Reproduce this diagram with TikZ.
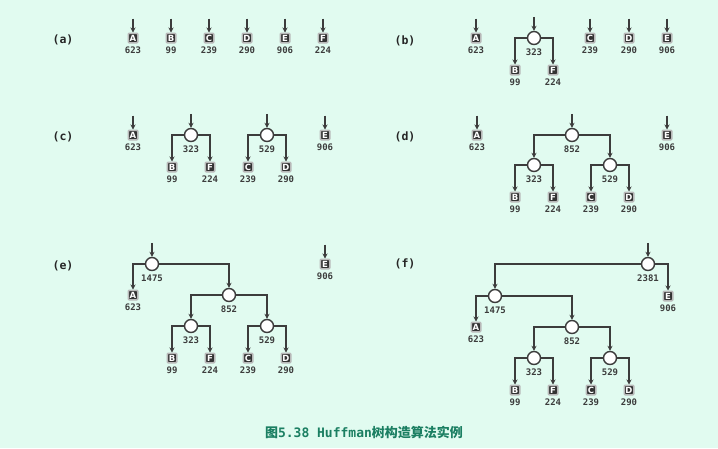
\documentclass[tikz,border=0pt]{standalone}
\usepackage{fontspec}
\setmonofont{DejaVu Sans Mono}
\setsansfont{DejaVu Sans}
\newfontfamily\cjk{Noto Sans CJK SC}
\usepackage{tikz}
\usetikzlibrary{arrows.meta,positioning}
\definecolor{bgmint}{HTML}{E1FBF0}
\definecolor{linegray}{HTML}{3C3C3C}
\definecolor{titleteal}{HTML}{1B7F62}

\begin{document}
\begin{tikzpicture}[x=1pt,y=-1pt,
  font=\ttfamily\bfseries\fontsize{9}{10}\selectfont,
  leaf/.style={draw=gray!55,line width=1.5pt,fill=black!80,text=white,rounded corners=1pt,
    minimum size=9.5pt,inner sep=0pt,font=\sffamily\bfseries\fontsize{8.5}{9}\selectfont},
  inode/.style={circle,draw=linegray,line width=1.4pt,fill=white,minimum size=13pt,inner sep=0pt},
  wt/.style={label={[label distance=0pt,text=linegray,font=\ttfamily\bfseries\fontsize{9}{10}\selectfont]below:#1}},
  edge/.style={draw=linegray,line width=1.4pt,-{Stealth[length=5pt,width=5pt]}},
  tag/.style={font=\ttfamily\bfseries\fontsize{11.5}{12}\selectfont,text=black!85}]
\fill[bgmint] (0,0) rectangle (718,448);
%(a) nur Blaetter
\node[tag] (ta) at (63,40) {(a)};
\foreach \n/\w [count=\i] in {A/623,B/99,C/239,D/290,E/906,F/224}{
  \node[leaf,wt=\w] (a\n) at (95+38*\i,38) {\n};
}
%(b) B und F zusammen
\node[tag] (tb) at (405,41) {(b)};
\node[leaf,wt=623] (bA) at (476,38) {A};
\node[inode,wt=323] (b323) at (534,38) {};
\node[leaf,wt=239] (bC) at (590,38) {C};
\node[leaf,wt=290] (bD) at (629,38) {D};
\node[leaf,wt=906] (bE) at (667,38) {E};
\node[leaf,wt=99] (bB) at (515,70) {B};
\node[leaf,wt=224] (bF) at (553,70) {F};
%(c)
\node[tag] (tc) at (63,137) {(c)};
\node[leaf,wt=623] (cA) at (133,135) {A};
\node[inode,wt=323] (c323) at (191,135) {};
\node[inode,wt=529] (c529) at (267,135) {};
\node[leaf,wt=906] (cE) at (325,135) {E};
\foreach \n/\w/\x in {B/99/172,F/224/210,C/239/248,D/290/286}{
  \node[leaf,wt=\w] (c\n) at (\x,167) {\n};
}
%(d)
\node[tag] (td) at (405,137) {(d)};
\node[leaf,wt=623] (dA) at (477,135) {A};
\node[inode,wt=852] (d852) at (572,135) {};
\node[leaf,wt=906] (dE) at (667,135) {E};
\node[inode,wt=323] (d323) at (534,165) {};
\node[inode,wt=529] (d529) at (610,165) {};
\foreach \n/\w/\x in {B/99/515,F/224/553,C/239/591,D/290/629}{
  \node[leaf,wt=\w] (d\n) at (\x,197) {\n};
}
%(e)
\node[tag] (te) at (63,266) {(e)};
\node[inode,wt=1475] (e1475) at (152,264) {};
\node[leaf,wt=906] (eE) at (325,264) {E};
\node[leaf,wt=623] (eA) at (133,295) {A};
\node[inode,wt=852] (e852) at (229,295) {};
\node[inode,wt=323] (e323) at (191,326) {};
\node[inode,wt=529] (e529) at (267,326) {};
\foreach \n/\w/\x in {B/99/172,F/224/210,C/239/248,D/290/286}{
  \node[leaf,wt=\w] (e\n) at (\x,358) {\n};
}
%(f) fertiger Baum
\node[tag] (tf) at (405,264) {(f)};
\node[inode,wt=2381] (f2381) at (648,264) {};
\node[inode,wt=1475] (f1475) at (495,296) {};
\node[leaf,wt=906] (fE) at (668,296) {E};
\node[leaf,wt=623] (fA) at (476,327) {A};
\node[inode,wt=852] (f852) at (572,327) {};
\node[inode,wt=323] (f323) at (534,358) {};
\node[inode,wt=529] (f529) at (610,358) {};
\foreach \n/\w/\x in {B/99/515,F/224/553,C/239/591,D/290/629}{
  \node[leaf,wt=\w] (f\n) at (\x,390) {\n};
}
%Pfeile von oben auf die Wurzeln
\foreach \r in {aA,aB,aC,aD,aE,aF,bA,b323,bC,bD,bE,cA,c323,c529,cE,dA,d852,dE,e1475,eE,f2381}{
  \coordinate (\r-in) at ([yshift=14pt]\r.north);
  \draw[edge] (\r-in) -- (\r);
}
%Kanten Eltern -> Kinder
\foreach \p/\c in {b323/bB,b323/bF,c323/cB,c323/cF,c529/cC,c529/cD,
    d852/d323,d852/d529,d323/dB,d323/dF,d529/dC,d529/dD,
    e1475/eA,e1475/e852,e852/e323,e852/e529,e323/eB,e323/eF,e529/eC,e529/eD,
    f2381/f1475,f2381/fE,f1475/fA,f1475/f852,f852/f323,f852/f529,f323/fB,f323/fF,f529/fC,f529/fD}{
  \draw[edge] (\p) -| (\c);
}
\node[text=titleteal,font=\ttfamily\bfseries\fontsize{13}{14}\selectfont] (title) at (364,432)
  {{\cjk\bfseries 图}5.38 Huffman{\cjk\bfseries 树构造算法实例}};
\end{tikzpicture}
\end{document}
